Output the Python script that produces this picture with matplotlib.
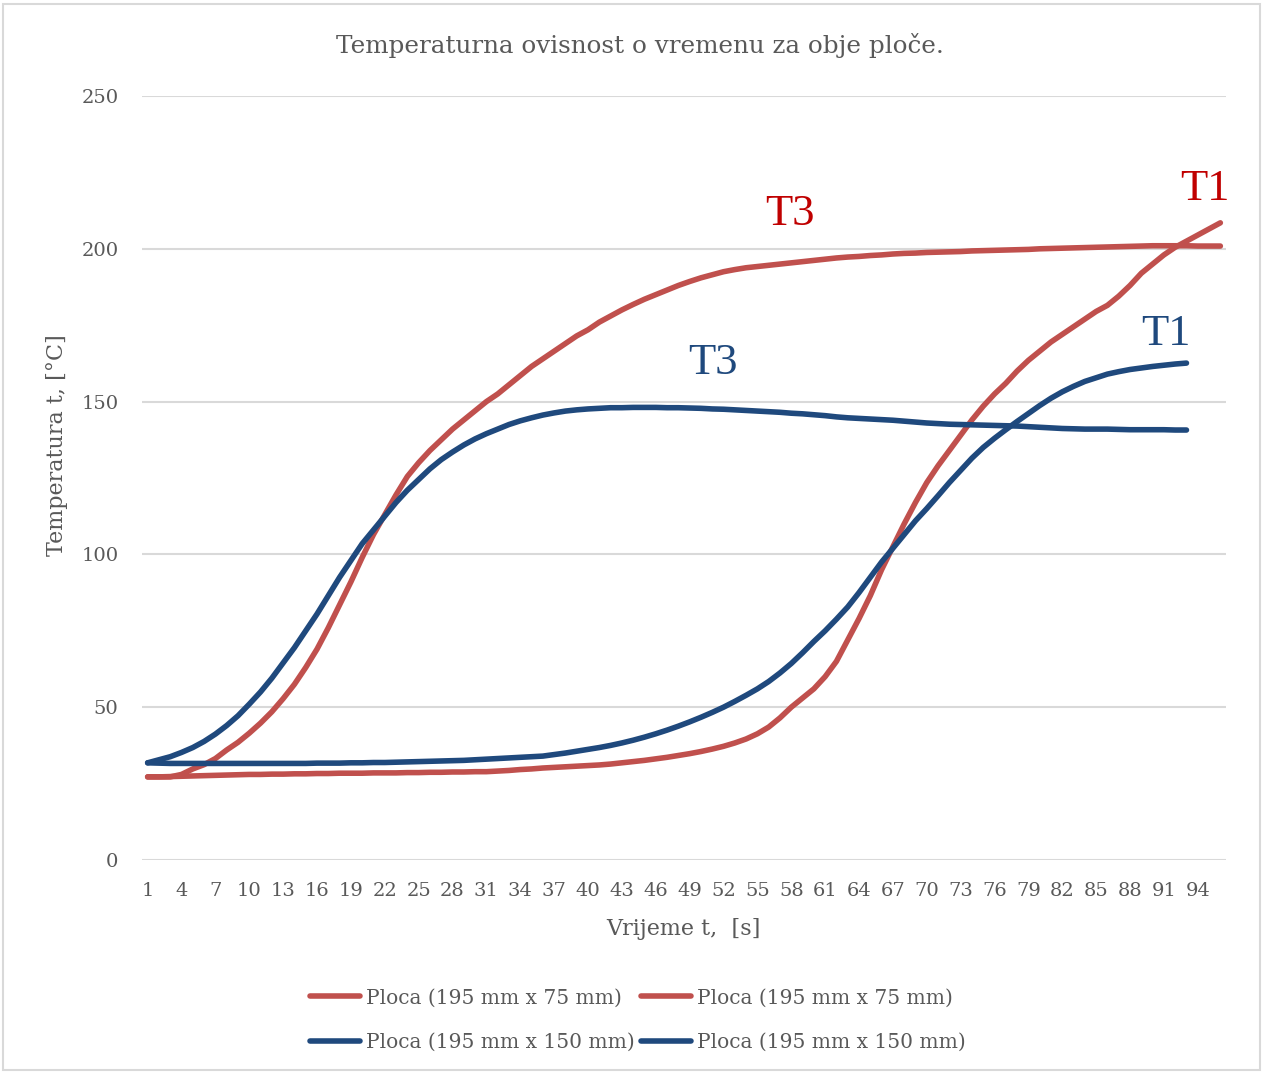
import matplotlib
matplotlib.use('Agg')
import matplotlib.pyplot as plt
from matplotlib.patches import Rectangle

# time steps (category axis)
t_red = list(range(1, 97))
t_blue = list(range(1, 94))
tick_labels = [str(v) for v in range(1, 95, 3)]

# Ploca 195 x 75 mm
red_T3 = [27.2, 27.2, 27.2, 28.0, 29.8, 31.2, 33.2, 36.0, 38.5, 41.5,
          44.8, 48.5, 52.8, 57.5, 63.0, 69.0, 76.0, 83.5, 91.0, 99.0,
          106.5, 113.0, 119.5, 125.5, 130.0, 134.0, 137.5, 141.0, 144.0, 147.0,
          150.0, 152.5, 155.5, 158.5, 161.5, 164.0, 166.5, 169.0, 171.5, 173.5,
          176.0, 178.0, 180.0, 181.8, 183.5, 185.0, 186.5, 188.0, 189.3, 190.5,
          191.5, 192.5, 193.2, 193.8, 194.2, 194.6, 195.0, 195.4, 195.8, 196.2,
          196.6, 197.0, 197.3, 197.5, 197.8, 198.0, 198.3, 198.5, 198.6, 198.8,
          198.9, 199.0, 199.1, 199.3, 199.4, 199.5, 199.6, 199.7, 199.8, 200.0,
          200.1, 200.2, 200.3, 200.4, 200.5, 200.6, 200.7, 200.8, 200.9, 201.0,
          201.0, 201.0, 201.0, 200.9, 200.9, 200.9]
red_T1 = [27.2, 27.2, 27.3, 27.4, 27.5, 27.6, 27.7, 27.8, 27.9, 28.0,
          28.0, 28.1, 28.1, 28.2, 28.2, 28.3, 28.3, 28.4, 28.4, 28.4,
          28.5, 28.5, 28.5, 28.6, 28.6, 28.7, 28.7, 28.8, 28.8, 28.9,
          28.9, 29.1, 29.3, 29.6, 29.8, 30.1, 30.3, 30.5, 30.7, 30.9,
          31.1, 31.4, 31.8, 32.2, 32.6, 33.1, 33.6, 34.2, 34.8, 35.5,
          36.3, 37.2, 38.3, 39.6, 41.3, 43.5, 46.5, 50.0, 53.0, 56.0,
          60.0, 65.0, 72.0, 79.0, 86.5, 95.0, 102.5, 110.0, 117.0, 123.5,
          129.0, 134.0, 139.0, 144.0, 148.5, 152.5, 156.0, 160.0, 163.5, 166.5,
          169.5, 172.0, 174.5, 177.0, 179.5, 181.5, 184.5, 188.0, 192.0, 195.0,
          198.0, 200.5, 202.5, 204.5, 206.5, 208.5]

# Ploca 195 x 150 mm
blue_T3 = [31.8, 32.8, 33.8, 35.2, 36.8, 38.8, 41.2, 44.0, 47.2, 51.0,
           55.0, 59.5, 64.5, 69.5, 75.0, 80.5, 86.5, 92.5, 98.0, 103.5,
           108.0, 112.5, 117.0, 121.0, 124.5, 128.0, 131.0, 133.5, 135.8, 137.8,
           139.5, 141.0, 142.5, 143.7, 144.7, 145.6, 146.3, 146.9, 147.3, 147.6,
           147.8, 148.0, 148.0, 148.1, 148.1, 148.1, 148.0, 148.0, 147.9, 147.8,
           147.6, 147.5, 147.3, 147.1, 146.9, 146.7, 146.5, 146.2, 146.0, 145.7,
           145.4, 145.0, 144.7, 144.5, 144.3, 144.1, 143.9, 143.6, 143.3, 143.0,
           142.8, 142.6, 142.5, 142.4, 142.3, 142.2, 142.1, 142.0, 141.8, 141.6,
           141.4, 141.2, 141.1, 141.0, 141.0, 141.0, 140.9, 140.8, 140.8, 140.8,
           140.8, 140.7, 140.7]
blue_T1 = [31.8, 31.7, 31.6, 31.6, 31.6, 31.6, 31.6, 31.6, 31.6, 31.6,
           31.6, 31.6, 31.6, 31.6, 31.6, 31.7, 31.7, 31.7, 31.8, 31.8,
           31.9, 31.9, 32.0, 32.1, 32.2, 32.3, 32.4, 32.5, 32.6, 32.8,
           33.0, 33.2, 33.4, 33.6, 33.8, 34.0, 34.5, 35.0, 35.6, 36.2,
           36.8, 37.5, 38.3, 39.2, 40.2, 41.3, 42.5, 43.8, 45.2, 46.7,
           48.3, 50.0, 51.9, 53.9, 56.0, 58.4, 61.2, 64.3, 67.8, 71.5,
           75.0, 78.8, 82.8, 87.5, 92.5, 97.5, 102.0, 106.5, 111.0, 115.0,
           119.2, 123.5, 127.5, 131.5, 135.0, 138.0, 140.8, 143.5, 146.1, 148.7,
           151.1, 153.2, 155.0, 156.6, 157.8, 159.0, 159.8, 160.5, 161.0, 161.5,
           161.9, 162.3, 162.6]

label_75 = 'Ploca (195 mm x 75 mm)'
label_150 = 'Ploca (195 mm x 150 mm)'

RED = '#C0504D'
BLUE = '#1F497D'
TEXT = '#595959'
GRID = '#D9D9D9'

plt.rcParams['font.family'] = ['DejaVu Serif']

W, H = 1263, 1072
fig = plt.figure(figsize=(W / 100, H / 100), dpi=100)
fig.patches.append(Rectangle((3 / W, 2 / H), 1257 / W, 1066 / H, transform=fig.transFigure,
                             fill=False, edgecolor=GRID, linewidth=1.5))

ax = fig.add_axes([142 / W, 1 - 860 / H, 1084 / W, 764 / H])
style = dict(lw=4.0, solid_capstyle='round', solid_joinstyle='round', zorder=3)
h_r3, = ax.plot(t_red, red_T3, color=RED, label=label_75, **style)
h_r1, = ax.plot(t_red, red_T1, color=RED, label=label_75, **style)
h_b3, = ax.plot(t_blue, blue_T3, color=BLUE, label=label_150, **style)
h_b1, = ax.plot(t_blue, blue_T1, color=BLUE, label=label_150, **style)

ax.set_xlim(0.5, 96.5)
ax.set_ylim(0, 250)
ax.set_yticks(range(0, 251, 50))
ax.set_xticks(range(1, 95, 3))
ax.set_xticklabels(tick_labels)
ax.yaxis.grid(True, color=GRID, lw=1.5)
ax.set_axisbelow(True)
for s in ax.spines.values():
    s.set_visible(False)
ax.tick_params(axis='both', length=0, colors=TEXT, labelsize=14)
ax.tick_params(axis='y', pad=17)
ax.tick_params(axis='x', pad=16)

fig.text(640 / W, 1 - 46 / H, 'Temperaturna ovisnost o vremenu za obje ploče.',
         ha='center', va='center', fontsize=17.7, color=TEXT)
fig.text(683 / W, 1 - 929 / H, 'Vrijeme t,  [s]', ha='center', va='center', fontsize=16, color=TEXT)
fig.text(57 / W, 1 - 445 / H, 'Temperatura t, [°C]', ha='center', va='center',
         rotation=90, fontsize=16, color=TEXT)

# curve labels
lab = dict(fontsize=32, ha='center', va='center', family='Liberation Serif')
ax.text(57.9, 211.5, 'T3', color='#C00000', **lab)
ax.text(94.6, 219.5, 'T1', color='#C00000', **lab)
ax.text(51.1, 162.5, 'T3', color=BLUE, **lab)
ax.text(91.2, 172.0, 'T1', color=BLUE, **lab)

leg = fig.legend([h_r3, h_b3, h_r1, h_b1], [label_75, label_150, label_75, label_150],
                 ncol=2, loc='center', bbox_to_anchor=(638 / W, 1 - 1020 / H), frameon=False,
                 fontsize=14.5, handlelength=2.5, handletextpad=0.3, columnspacing=0.3,
                 labelspacing=1.25)
for txt in leg.get_texts():
    txt.set_color(TEXT)

fig.savefig('out.png', dpi=100)
